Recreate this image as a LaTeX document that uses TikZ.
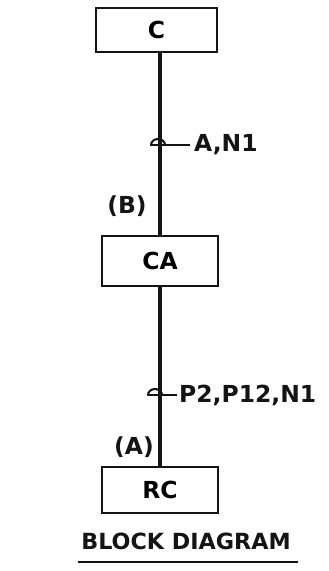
\documentclass[tikz,border=0pt]{standalone}
\usepackage{fontspec}
\setmainfont{DejaVu Sans}
\usepackage{tikz}
\usetikzlibrary{calc,positioning}
\definecolor{InkBlack}{RGB}{20, 20, 20}

\tikzset{
    blockbox/.style={draw=InkBlack, line width=2.2pt, inner sep=0pt, font=\bfseries\fontsize{20}{20}\selectfont},
    wire/.style={InkBlack, line width=2.8pt},
    tagtext/.style={InkBlack, font=\bfseries\fontsize{20}{20}\selectfont, inner sep=0pt}
}

\begin{document}
\begin{tikzpicture}[x=0.03cm, y=-0.03cm]
    \useasboundingbox (0,0) rectangle (328,571);
    % blocks
    \node[blockbox, minimum width=3.63cm, minimum height=1.32cm] (C) at (156.5,30) {C};
    \node[blockbox, minimum width=3.48cm, minimum height=1.5cm] (CA) at (160,261) {CA};
    \node[blockbox, minimum width=3.48cm, minimum height=1.38cm] (RC) at (160,490) {RC};
    % links
    \draw[wire] (CA.north |- C.south) -- (CA.north);
    \draw[wire] (CA.south) -- (RC.north);
    % attribute marks on the links
    \coordinate (m1) at (158,145);
    \coordinate (m2) at (155,395);
    \draw[wire, line width=1.8pt] ($(m1)+(-7,0)$) arc (180:360:7 and 6);
    \draw[wire, line width=1.8pt] ($(m1)+(-8,0)$) -- ++(40,0) coordinate (e1);
    \node[tagtext, anchor=west] (l1) at ($(e1)+(4,0)$) {A,N1};
    \draw[wire, line width=1.8pt] ($(m2)+(-7,0)$) arc (180:360:7 and 6);
    \draw[wire, line width=1.8pt] ($(m2)+(-8,0)$) -- ++(30,0) coordinate (e2);
    \node[tagtext, anchor=west] (l2) at ($(e2)+(2,0)$) {P2,P12,N1};
    \node[tagtext] (b) at (127,206) {(B)};
    \node[tagtext] (a) at (134,447) {(A)};
    % caption
    \node[tagtext, font=\bfseries\fontsize{19}{19}\selectfont] (cap) at (186,541) {BLOCK DIAGRAM};
    \draw[wire, line width=2.2pt] (78,562) -- (298,562);
\end{tikzpicture}
\end{document}
